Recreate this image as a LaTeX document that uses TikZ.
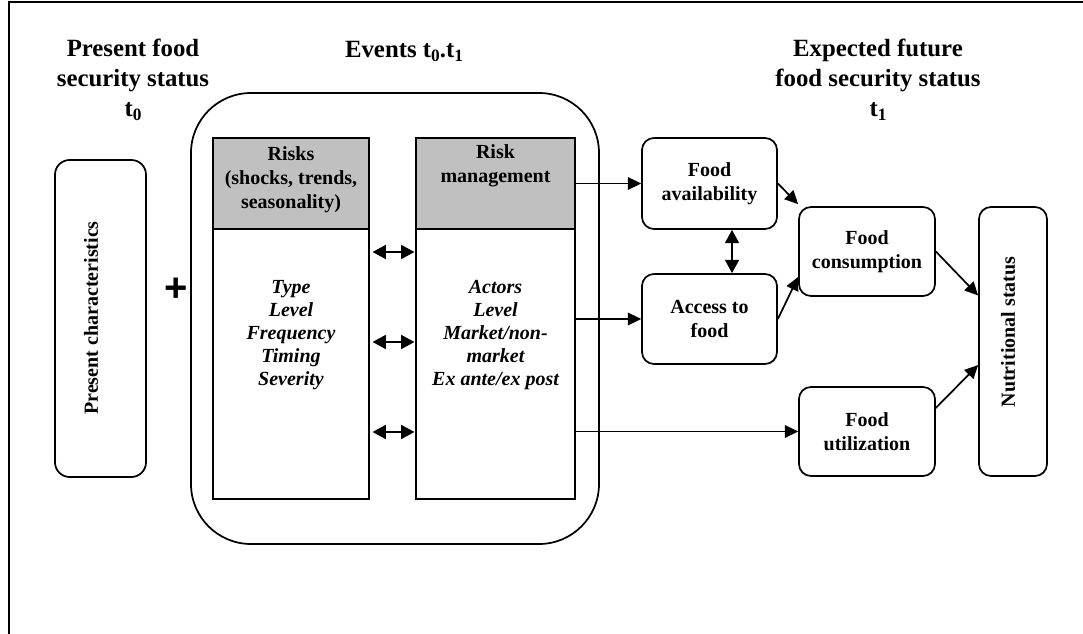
\documentclass[tikz,border=0pt]{standalone}
\usepackage{fontspec}
\setmainfont{Liberation Serif}
\newfontfamily\plusfont{Liberation Sans}
\usetikzlibrary{arrows.meta,calc}
\definecolor{hdr}{HTML}{C0C0C0}
\newcommand\bodyfont{\fontsize{15}{18}\selectfont\bfseries}
\newcommand\listfont{\fontsize{15}{17.25}\selectfont\bfseries\itshape}
\newcommand\headfont{\fontsize{18.6}{22.5}\selectfont\bfseries}
\newcommand\subidx[1]{\raisebox{-0.35ex}{\fontsize{13}{13}\selectfont #1}}
\begin{document}
\begin{tikzpicture}[x=0.75pt,y=-0.75pt,
  every node/.style={inner sep=0pt},
  sz/.style 2 args={minimum width=#1*0.75pt, minimum height=#2*0.75pt},
  box/.style={draw, line width=1.3pt, rounded corners=9pt},
  sqbox/.style={draw, line width=1.3pt},
  txt/.style={align=center, font=\bodyfont},
  lst/.style={align=center, font=\listfont},
  head/.style={align=center, font=\headfont},
  arr/.style={line width=1.3pt, -{Triangle[length=10pt,width=9.5pt]}},
  darr/.style={line width=1.3pt, {Triangle[length=10pt,width=10.5pt]}-{Triangle[length=10pt,width=10.5pt]}},
  frame/.style={line width=1.4pt}
]
\useasboundingbox (0,0) rectangle (1083,634);
% cropped outer frame
\coordinate (fbl) at (9,634);
\coordinate (ftl) at (9,2);
\coordinate (ftr) at (1083,2);
\draw[frame] (fbl) -- (ftl) -- (ftr);

% headings
\node[head] (h1) at (133,80) {Present food\\security status\\t\subidx{0}};
\node[head] (h2) at (404,51) {Events t\subidx{0}.t\subidx{1}};
\node[head] (h3) at (878,80) {Expected future\\food security status\\t\subidx{1}};

% present characteristics
\node[box, rounded corners=11pt, sz={91}{317}] (pc) at (100.5,318.5) {};
\node[txt, rotate=90] (pct) at (91,318) {Present characteristics};

% plus
\node[font=\plusfont\fontsize{30}{30}\selectfont\bfseries] (plus) at (176,290) {+};

% events container
\node[box, rounded corners=45pt, sz={408}{451}] (ev) at (395,318.5) {};

% risks
\node[sqbox, sz={156}{361}] (rk) at (291,318.5) {};
\node[sqbox, fill=hdr, sz={156}{91}, anchor=north] (rkh) at (rk.north) {};
\node[txt] (rkt) at (291,180) {Risks\\(shocks, trends,\\seasonality)};
\node[lst] (rkl) at (291,335) {Type\\Level\\Frequency\\Timing\\Severity};

% risk management
\node[sqbox, sz={159}{361}] (rm) at (495.5,318.5) {};
\node[sqbox, fill=hdr, sz={159}{91}, anchor=north] (rmh) at (rm.north) {};
\node[txt] (rmt) at (495.5,166) {Risk\\management};
\node[lst] (rml) at (495.5,335) {Actors\\Level\\Market/non-\\market\\Ex ante/ex post};

% right side boxes
\node[box, txt, sz={135}{91}] (fa) at (709.5,183.5) {Food\\availability};
\node[box, txt, sz={135}{90}] (af) at (709.5,319) {Access to\\food};
\node[box, txt, sz={136}{89}] (fc) at (867,251.5) {Food\\consumption};
\node[box, txt, sz={136}{89}] (fu) at (867,431.5) {Food\\utilization};
\node[box, sz={68}{269}] (ns) at (1013,341.5) {};
\node[txt, rotate=90] (nst) at (1008,332) {Nutritional status};

% double arrows between risks and risk management
\coordinate (y1) at (0,252);
\coordinate (y2) at (0,342);
\coordinate (y3) at (0,432);
\draw[darr, shorten <=2pt, shorten >=0.5pt] (rk.east |- y1) -- (rm.west |- y1);
\draw[darr, shorten <=2pt, shorten >=0.5pt] (rk.east |- y2) -- (rm.west |- y2);
\draw[darr, shorten <=2pt, shorten >=0.5pt] (rk.east |- y3) -- (rm.west |- y3);

% arrows from risk management
\draw[arr] (rm.east |- fa.west) -- (fa.west);
\draw[arr] (rm.east |- af.west) -- (af.west);
\draw[arr] (rm.east |- fu.west) -- (fu.west);

% availability <-> access
\draw[darr] ([xshift=16.9pt]fa.south) -- ([xshift=16.9pt]af.north);

% to consumption
\draw[arr] (fa.east) -- ($(fc.north west)+(0,-2)$);
\draw[arr] (af.east) -- ($(fc.north west)!0.78!(fc.south west)$);

% to nutritional status
\draw[arr] (fc.east) -- ($(ns.north west)!0.33!(ns.south west)$);
\draw[arr] ($(fu.north east)!0.24!(fu.south east)$) -- ($(ns.north west)!0.587!(ns.south west)$);
\end{tikzpicture}
\end{document}
